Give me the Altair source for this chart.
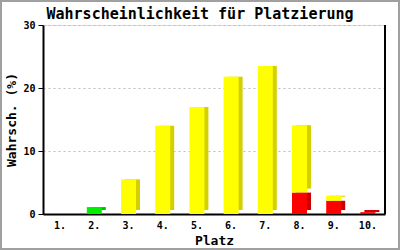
import altair as alt
import pandas as pd

places = ["1.", "2.", "3.", "4.", "5.", "6.", "7.", "8.", "9.", "10."]
green_vals = [0, 1.1, 0, 0, 0, 0, 0, 0, 0, 0]
red_vals = [0, 0, 0, 0, 0, 0, 0, 3.4, 2.1, 0.3]
total_vals = [0, 1.1, 5.5, 14.0, 17.0, 21.8, 23.5, 14.1, 2.9, 0.3]
y_ticks = [0, 10, 20, 30]
chart_title = "Wahrscheinlichkeit für Platzierung"

rows = []
for p, g, r, t in zip(places, green_vals, red_vals, total_vals):
    if g > 0:
        rows.append({"Platz": p, "lo": 0, "hi": g, "seg": "green"})
    if r > 0:
        rows.append({"Platz": p, "lo": 0, "hi": r, "seg": "red"})
    base = max(g, r)
    if t > base:
        rows.append({"Platz": p, "lo": base, "hi": t, "seg": "yellow"})
df = pd.DataFrame(rows)

W, H = 342, 189
MONO = "DejaVu Sans Mono"

front_colors = alt.Scale(domain=["green", "red", "yellow"], range=["#00ee00", "#ff0000", "#ffff00"])
side_colors = alt.Scale(domain=["green", "red", "yellow"], range=["#00c000", "#cc0000", "#d4d000"])

x_enc = alt.X("Platz:N", sort=places, title="Platz",
              scale=alt.Scale(domain=places, paddingInner=0, paddingOuter=0),
              axis=alt.Axis(labelAngle=0, ticks=False, domainColor="black", domainWidth=2,
                            labelFont=MONO, labelFontSize=10, labelFontWeight="bold",
                            labelColor="black", labelPadding=6,
                            titleFont=MONO, titleFontSize=13, titleFontWeight="bold",
                            titleColor="black", titlePadding=4))
y_enc = alt.Y("lo:Q", title="Wahrsch. (%)",
              scale=alt.Scale(domain=[0, 30], nice=False),
              axis=alt.Axis(values=y_ticks, grid=True, gridDash=[2, 3], gridColor="#bbbbbb",
                            domainColor="black", domainWidth=2, tickColor="black", tickSize=5,
                            labelFont=MONO, labelFontSize=10, labelFontWeight="bold",
                            labelColor="black", labelPadding=3,
                            titleFont=MONO, titleFontSize=13, titleFontWeight="bold",
                            titleColor="black", titlePadding=4))

base = alt.Chart(df)

shadow = base.mark_bar(size=15, xOffset=4, yOffset=-4).encode(
    x=x_enc, y=y_enc, y2="hi:Q",
    color=alt.Color("seg:N", scale=side_colors, legend=None),
)
front = base.mark_bar(size=15).encode(
    x=alt.X("Platz:N", sort=places, scale=alt.Scale(domain=places)), y="lo:Q", y2="hi:Q",
    color=alt.Color("seg:N", scale=front_colors, legend=None),
)

one = pd.DataFrame({"a": [0]})
right_line = alt.Chart(one).mark_rule(color="black", strokeWidth=2).encode(
    x=alt.value(W), y=alt.value(0), y2=alt.value(H)
)
border = alt.Chart(one).mark_rect(
    fill=None, stroke="#a0a0a0", strokeWidth=2, clip=False
).encode(
    x=alt.value(-43 + 1), x2=alt.value(400 - 43 - 1),
    y=alt.value(-25 + 1), y2=alt.value(250 - 25 - 1)
)
title_text = alt.Chart(pd.DataFrame({"t": [chart_title]})).mark_text(
    font=MONO, fontSize=15, fontWeight="bold", color="black",
    align="center", baseline="alphabetic", clip=False
).encode(
    text="t:N", x=alt.value(200 - 43), y=alt.value(-6)
)

chart = alt.layer(shadow, front, right_line, border, title_text).resolve_scale(
    color="independent"
).properties(
    width=W, height=H,
    autosize=alt.AutoSizeParams(type="none"),
    padding={"left": 43, "top": 25, "right": 15, "bottom": 36},
).configure_view(stroke=None).configure(background="white")

chart.save("out.html", embed_options={"renderer": "svg", "actions": False})
